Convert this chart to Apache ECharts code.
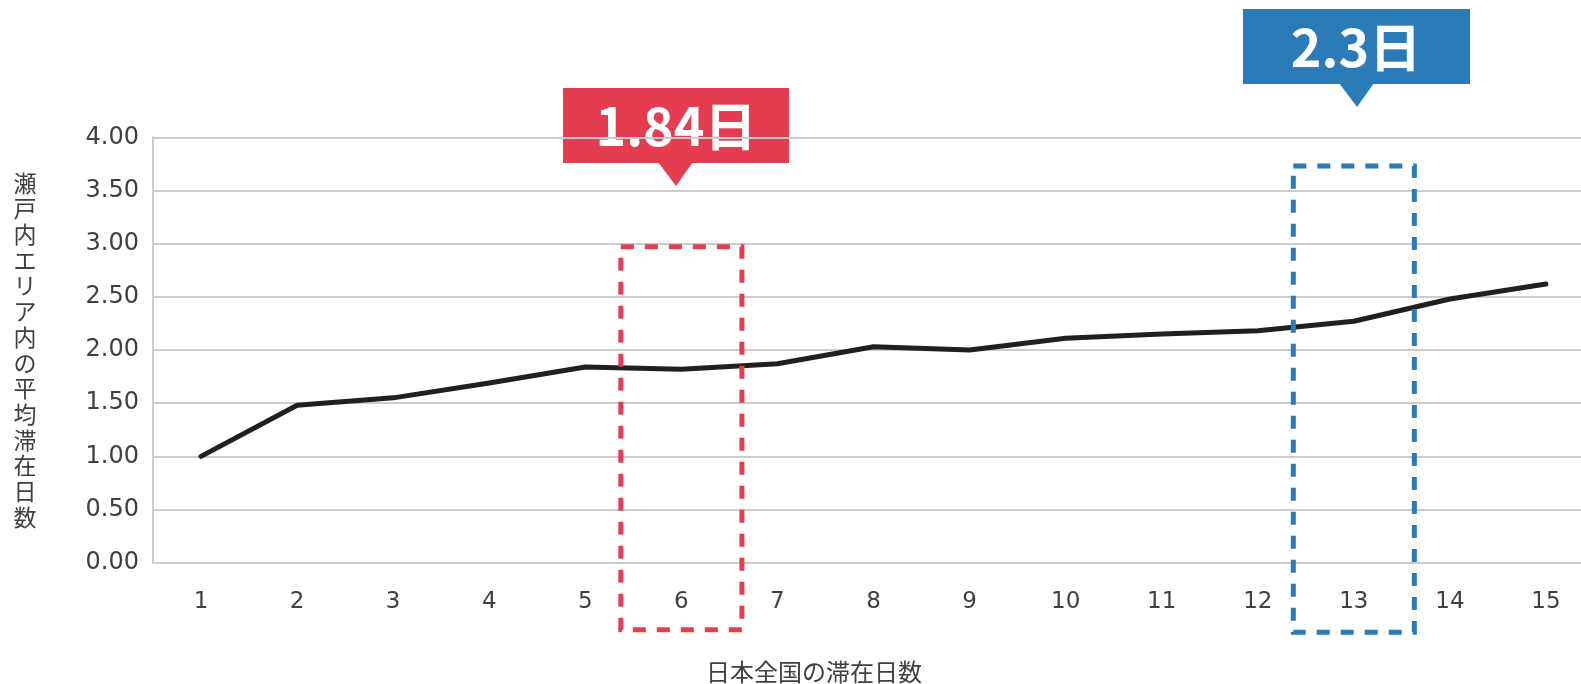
<!DOCTYPE html>
<html>
<head>
<meta charset="utf-8">
<script src="https://cdn.jsdelivr.net/npm/echarts@6/dist/echarts.min.js"></script>
<style>
  html, body { margin: 0; padding: 0; background: #ffffff; }
  #chart { width: 1581px; height: 684px; }
</style>
</head>
<body>
<div id="chart"></div>
<script>
// Days stayed in Japan overall (x) vs. average days stayed in the Setouchi area (y)
const categories = ['1', '2', '3', '4', '5', '6', '7', '8', '9', '10', '11', '12', '13', '14', '15'];
const avgStayDays = [1.00, 1.48, 1.55, 1.69, 1.84, 1.82, 1.87, 2.03, 2.00, 2.11, 2.15, 2.18, 2.27, 2.48, 2.62];
const yTicks = [0, 0.5, 1, 1.5, 2, 2.5, 3, 3.5, 4];

// Highlighted categories and the callout captions above them
const highlightCategories = ['6', '13'];
const calloutTexts = ['1.84日', '2.3日'];

const xAxisTitle = '日本全国の滞在日数';
const yAxisTitle = '瀬戸内エリア内の平均滞在日数';

const RED = '#E43D50';
const BLUE = '#2B7BB9';
const TEXT = '#404040';
const GRID = '#CCCCCC';

const chart = echarts.init(document.getElementById('chart'), null, { renderer: 'canvas' });

// Dashed frames: [category index, top value, bottom value]
const frameExtents = [
  [categories.indexOf(highlightCategories[0]), 2.97, -0.63],
  [categories.indexOf(highlightCategories[1]), 3.73, -0.655]
];
const frameColors = [RED, BLUE];

const option = {
  animation: false,
  backgroundColor: '#ffffff',
  grid: {
    left: 153, top: 137.3, width: 1441, height: 425.4,
    containLabel: false, outerBoundsMode: 'none'
  },
  xAxis: {
    type: 'category',
    data: categories,
    boundaryGap: true,
    axisLine: { show: true, lineStyle: { color: GRID, width: 2 } },
    axisTick: { show: false },
    axisLabel: { color: TEXT, fontSize: 23, fontFamily: 'DejaVu Sans', margin: 28 },
    splitLine: { show: false }
  },
  yAxis: {
    type: 'value',
    min: yTicks[0],
    max: yTicks[yTicks.length - 1],
    interval: yTicks[1] - yTicks[0],
    axisLine: { show: true, lineStyle: { color: GRID, width: 2 } },
    axisTick: { show: false },
    axisLabel: {
      color: TEXT, fontSize: 24, fontFamily: 'DejaVu Sans', margin: 14,
      formatter: v => v.toFixed(2)
    },
    splitLine: { show: true, lineStyle: { color: GRID, width: 2 } },
    name: yAxisTitle.split('').join('\n'),
    nameLocation: 'middle',
    nameRotate: 0,
    nameGap: 128,
    nameTextStyle: {
      color: TEXT, fontSize: 23, lineHeight: 25.7,
      fontFamily: 'Noto Sans CJK JP', align: 'center', verticalAlign: 'middle'
    }
  },
  series: [
    {
      type: 'line',
      data: avgStayDays,
      symbol: 'none',
      z: 3,
      lineStyle: { color: '#231F20', width: 5, cap: 'round', join: 'round' }
    },
    {
      type: 'custom',
      data: frameExtents,
      clip: false,
      z: 4,
      renderItem: function (params, api) {
        const idx = api.value(0);
        const top = api.coord([idx, api.value(1)]);
        const bottom = api.coord([idx, api.value(2)]);
        const w = api.size([1, 0])[0] * 1.26;
        return {
          type: 'rect',
          shape: { x: top[0] - w / 2, y: top[1], width: w, height: bottom[1] - top[1] },
          style: { fill: 'none', stroke: frameColors[params.dataIndex], lineWidth: 5, lineDash: [13, 11] }
        };
      }
    }
  ],
  graphic: [
    {
      type: 'text',
      x: 814, y: 672,
      style: {
        text: xAxisTitle, fill: TEXT, fontSize: 24,
        fontFamily: 'Noto Sans CJK JP', align: 'center', verticalAlign: 'middle'
      }
    },
    // red callout
    { type: 'rect', shape: { x: 563, y: 88, width: 226, height: 75 }, style: { fill: RED } },
    { type: 'polygon', shape: { points: [[658, 162], [693, 162], [676, 186]] }, style: { fill: RED } },
    {
      type: 'text', x: 676, y: 126,
      style: {
        text: calloutTexts[0], fill: '#ffffff', fontSize: 52, fontWeight: 'bold',
        fontFamily: 'Noto Sans CJK JP', align: 'center', verticalAlign: 'middle'
      }
    },
    // blue callout
    { type: 'rect', shape: { x: 1243, y: 9, width: 227, height: 75 }, style: { fill: BLUE } },
    { type: 'polygon', shape: { points: [[1339, 83], [1374, 83], [1357, 107]] }, style: { fill: BLUE } },
    {
      type: 'text', x: 1356, y: 47,
      style: {
        text: calloutTexts[1], fill: '#ffffff', fontSize: 52, fontWeight: 'bold',
        fontFamily: 'Noto Sans CJK JP', align: 'center', verticalAlign: 'middle'
      }
    }
  ]
};

chart.setOption(option);
</script>
</body>
</html>
